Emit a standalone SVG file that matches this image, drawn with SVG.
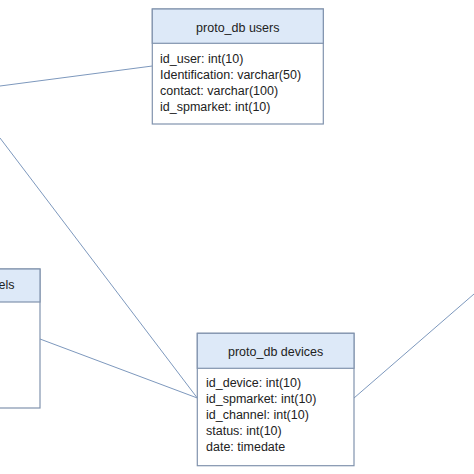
<svg xmlns="http://www.w3.org/2000/svg" width="474" height="474" viewBox="0 0 474 474">
<style>
.box{fill:#ffffff;stroke:#8193ad;stroke-width:1.2}
.hdr{fill:#dde9f8;stroke:#8193ad;stroke-width:1.2}
.t{font-family:"Liberation Sans",Arial,sans-serif;font-size:12.5px;fill:#222222}
.h{font-family:"Liberation Sans",Arial,sans-serif;font-size:12.5px;fill:#222222;text-anchor:middle}
.c{stroke:#7d98bd;stroke-width:1;fill:none}
</style>
<rect width="474" height="474" fill="#ffffff"/>
<g id="connectors">
<line class="c" x1="0" y1="86" x2="152.3" y2="66"/>
<line class="c" x1="0" y1="138" x2="197.3" y2="398"/>
<line class="c" x1="40" y1="339" x2="197.3" y2="398"/>
<line class="c" x1="354" y1="398" x2="474" y2="294"/>
</g>
<g id="users">
<rect class="box" x="152.3" y="9" width="171" height="115"/>
<rect class="hdr" x="152.3" y="9" width="171" height="34.3"/>
<text class="h" x="237.8" y="32">proto_db users</text>
<text class="t" x="160" y="63">id_user: int(10)</text>
<text class="t" x="160" y="79">Identification: varchar(50)</text>
<text class="t" x="160" y="95">contact: varchar(100)</text>
<text class="t" x="160" y="111">id_spmarket: int(10)</text>
</g>
<g id="devices">
<rect class="box" x="197.3" y="333.3" width="156.7" height="132.4"/>
<rect class="hdr" x="197.3" y="333.3" width="156.7" height="35"/>
<text class="h" x="275.6" y="356">proto_db devices</text>
<text class="t" x="206" y="387">id_device: int(10)</text>
<text class="t" x="206" y="403">id_spmarket: int(10)</text>
<text class="t" x="206" y="419">id_channel: int(10)</text>
<text class="t" x="206" y="435">status: int(10)</text>
<text class="t" x="206" y="451">date: timedate</text>
</g>
<g id="channels">
<rect class="box" x="-60" y="269" width="100" height="139"/>
<rect class="hdr" x="-60" y="269" width="100" height="33"/>
<text class="t" x="14.5" y="289" text-anchor="end">els</text>
</g>
</svg>
